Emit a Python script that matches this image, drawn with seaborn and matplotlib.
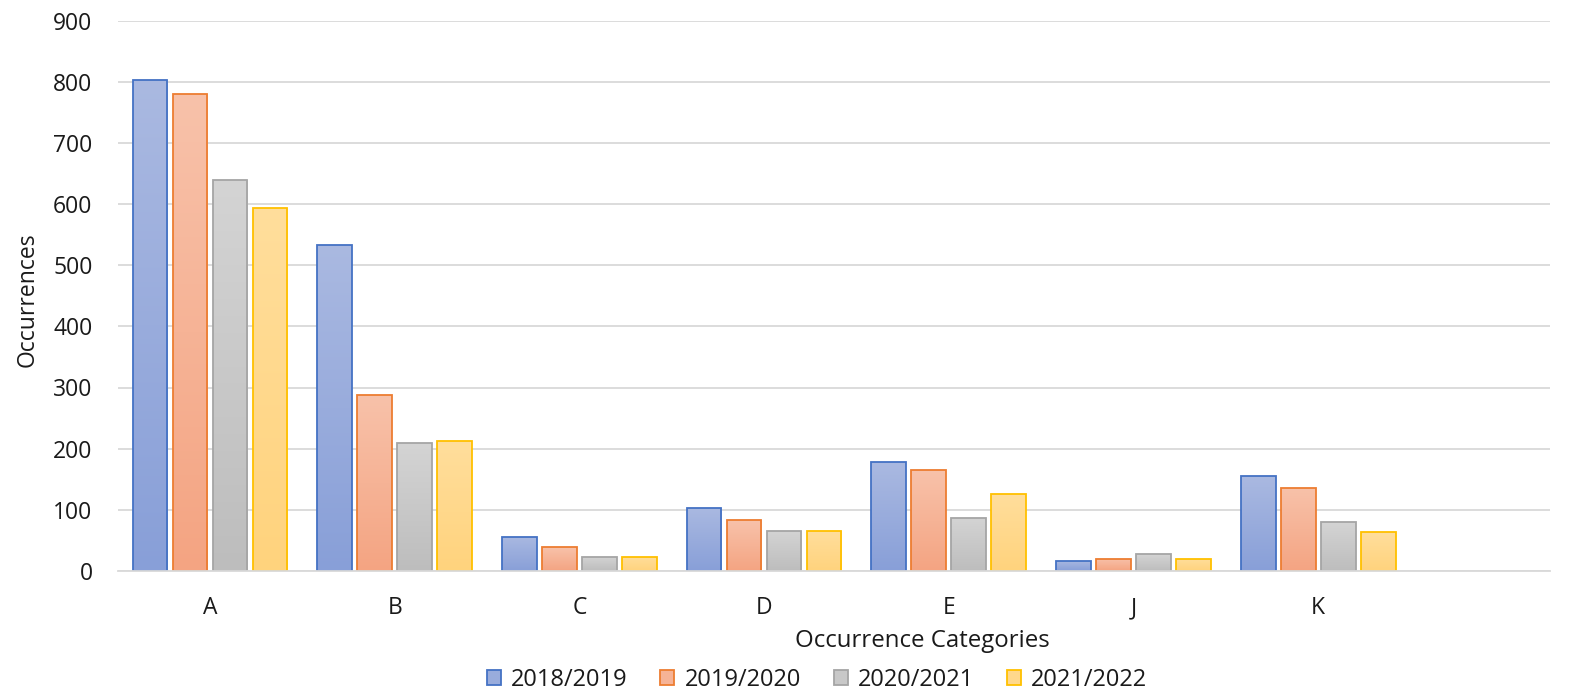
import numpy as np
import pandas as pd
import matplotlib
matplotlib.use("Agg")
import matplotlib.pyplot as plt
import seaborn as sns
from matplotlib.patches import Patch
from matplotlib.colors import LinearSegmentedColormap

categories = ['A', 'B', 'C', 'D', 'E', 'J', 'K']
seasons = ['2018/2019', '2019/2020', '2020/2021', '2021/2022']
v_2018_2019 = [803, 533, 56, 103, 178, 17, 155]
v_2019_2020 = [780, 288, 39, 83, 165, 20, 136]
v_2020_2021 = [640, 209, 23, 66, 87, 27, 80]
v_2021_2022 = [594, 212, 23, 66, 126, 20, 63]
y_ticks = [0, 100, 200, 300, 400, 500, 600, 700, 800, 900]

series = [v_2018_2019, v_2019_2020, v_2020_2021, v_2021_2022]
rows = []
for s, vals in zip(seasons, series):
    for c, v in zip(categories, vals):
        rows.append({'cat': c, 'season': s, 'val': v})
df = pd.DataFrame(rows)

edge_colors = ['#4472C4', '#ED7D31', '#A5A5A5', '#FFC000']
top_colors = ['#AAB9E1', '#F8C2AA', '#D4D4D4', '#FFDE9C']
bottom_colors = ['#889FD8', '#F4A482', '#BDBDBD', '#FFD37D']
mid_colors = ['#99ACDC', '#F6B396', '#C8C8C8', '#FFD88C']

sns.set_theme(style='white')
plt.rcParams['font.family'] = ['Open Sans', 'DejaVu Sans']

FS = 16.5
FS_TITLE = 17.3
FS_LEG = 17
TXT = '#1a1a1a'
W, H = 1578, 692
fig = plt.figure(figsize=(W / 100, H / 100), dpi=100)
left_px, right_px, top_px, bottom_px = 117.6, 1550, 20.5, 571
ax = fig.add_axes([left_px / W, 1 - bottom_px / H,
                   (right_px - left_px) / W, (bottom_px - top_px) / H])

sns.barplot(data=df, x='cat', y='val', hue='season', hue_order=seasons,
            order=categories, palette=mid_colors, width=0.866, gap=0.13,
            saturation=1, legend=False, ax=ax, errorbar=None)

grad = np.linspace(0, 1, 256).reshape(-1, 1)
for ci, cont in enumerate(ax.containers):
    cmap = LinearSegmentedColormap.from_list('g%d' % ci, [bottom_colors[ci], top_colors[ci]])
    for bar in cont:
        bar.set_edgecolor(edge_colors[ci])
        bar.set_linewidth(1.3)
        bar.set_facecolor('none')
        bar.set_zorder(3)
        x0, w, h = bar.get_x(), bar.get_width(), bar.get_height()
        im = ax.imshow(grad, cmap=cmap, origin='lower', extent=[x0, x0 + w, 0, h],
                       aspect='auto', zorder=2, interpolation='bilinear')
        im.set_clip_path(bar)

ax.set_xlim(-0.5, (right_px - 210) / 184.7)
ax.set_ylim(0, 900)
ax.set_yticks(y_ticks)
ax.set_axisbelow(True)
ax.yaxis.grid(True, color='#D9D9D9', linewidth=1.3)
ax.xaxis.grid(False)
for sp in ['top', 'right', 'left']:
    ax.spines[sp].set_visible(False)
ax.spines['bottom'].set_color('#D9D9D9')
ax.spines['bottom'].set_linewidth(1.3)
ax.spines['bottom'].set_zorder(4)
ax.tick_params(axis='y', length=0, labelsize=FS, pad=18, labelcolor=TXT)
ax.tick_params(axis='x', length=0, labelsize=FS, pad=18, labelcolor=TXT)
ax.set_xlabel('')
ax.set_ylabel('')

fig.text(922 / W, 1 - 641 / H, 'Occurrence Categories', ha='center', va='center',
         fontsize=FS_TITLE, color=TXT)
fig.text(28 / W, 1 - 300 / H, 'Occurrences', ha='center', va='center',
         rotation=90, fontsize=FS, color=TXT)

handles = [Patch(facecolor=mid_colors[i], edgecolor=edge_colors[i], linewidth=1.3,
                 label=seasons[i]) for i in range(4)]
fig.legend(handles=handles, loc='center', bbox_to_anchor=(817 / W, 1 - 680 / H),
           ncol=4, frameon=False, fontsize=FS_LEG, handlelength=0.6, handleheight=0.6,
           handletextpad=0.42, columnspacing=1.4, labelcolor=TXT)

fig.savefig('out.png', dpi=100)
